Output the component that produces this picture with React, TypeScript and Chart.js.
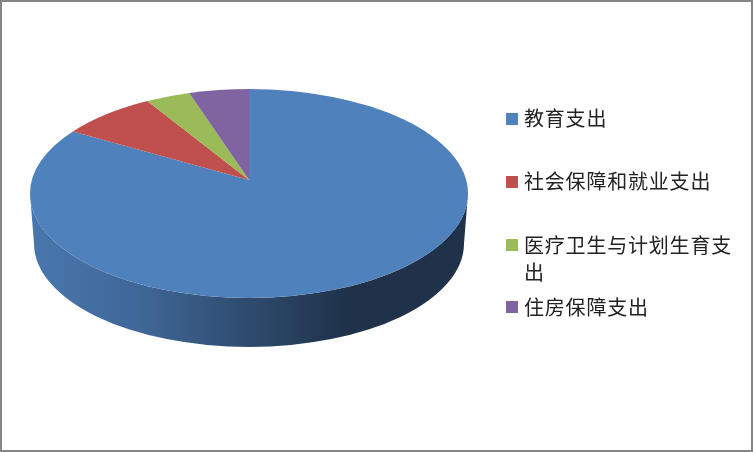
import React, { useEffect, useRef } from "react";
import { Chart, registerables } from "chart.js";

Chart.register(...registerables);

const categories = ["教育支出", "社会保障和就业支出", "医疗卫生与计划生育支出", "住房保障支出"];
const shares = [83.4, 7.9, 3.7, 5.0];
const sliceColors = ["#4F81BD", "#C0504D", "#9BBB59", "#8064A2"];
const legendRows = [118, 181, 245, 307];

const TOP_CY = 193.5;
const TOP_RY = 104.5;
const APEX_Y = 180;
const BOT_CY = 243.5;
const BOT_RY = 103.5;
const BOT_RX = 215;
const FONT = '20px "Noto Sans CJK SC"';

const shade = (hex: string, f: number) => {
  const n = parseInt(hex.slice(1), 16);
  const c = (s: number) => Math.round(((n >> s) & 255) * f);
  return `rgb(${c(16)},${c(8)},${c(0)})`;
};

const a = (APEX_Y - TOP_CY) / TOP_RY;
// perspective: the chart's angle on the pie disc -> parameter angle on the drawn rim ellipse
const rimAngle = (t: number) => {
  const x = Math.cos(t);
  const y = Math.sin(t);
  const d = 1 + a * y;
  return Math.atan2((y + a) / d, (x * Math.sqrt(1 - a * a)) / d);
};

const pie3d = {
  id: "pie3d",
  beforeDraw(chart: any) {
    const { ctx, width, height } = chart;
    ctx.save();
    ctx.fillStyle = "#ffffff";
    ctx.fillRect(0, 0, width, height);
    ctx.restore();
  },
  beforeDatasetDraw(chart: any) {
    const { ctx } = chart;
    const arcs = chart.getDatasetMeta(0).data;
    const colors = chart.data.datasets[0].backgroundColor;
    ctx.save();
    arcs.forEach((el: any, i: number) => {
      const cx = el.x;
      const rx = el.outerRadius;
      const s = rimAngle(el.startAngle);
      let e = rimAngle(el.endAngle);
      if (e < s) e += Math.PI * 2;
      const from = Math.max(s, 0);
      const to = Math.min(e, Math.PI);
      if (to <= from) return;
      const g = ctx.createLinearGradient(cx - rx, 0, cx + rx, 0);
      g.addColorStop(0, shade(colors[i], 0.92));
      g.addColorStop(0.25, shade(colors[i], 0.8));
      g.addColorStop(0.5, shade(colors[i], 0.58));
      g.addColorStop(0.72, shade(colors[i], 0.39));
      g.addColorStop(1, shade(colors[i], 0.39));
      ctx.beginPath();
      ctx.ellipse(cx, TOP_CY, rx, TOP_RY, 0, from, to, false);
      ctx.ellipse(cx, BOT_CY, BOT_RX, BOT_RY, 0, to, from, true);
      ctx.closePath();
      ctx.fillStyle = g;
      ctx.fill();
    });
    arcs.forEach((el: any, i: number) => {
      ctx.beginPath();
      ctx.moveTo(el.x, APEX_Y);
      ctx.ellipse(el.x, TOP_CY, el.outerRadius, TOP_RY, 0, rimAngle(el.startAngle), rimAngle(el.endAngle), false);
      ctx.closePath();
      ctx.fillStyle = colors[i];
      ctx.fill();
    });
    ctx.restore();
    return false;
  },
  afterDraw(chart: any) {
    const { ctx, width, height } = chart;
    const colors = chart.data.datasets[0].backgroundColor;
    ctx.save();
    ctx.font = FONT;
    (ctx as any).letterSpacing = "0.8px";
    ctx.textBaseline = "middle";
    ctx.textAlign = "left";
    chart.data.labels.forEach((label: string, i: number) => {
      const y = legendRows[i];
      ctx.fillStyle = colors[i];
      ctx.fillRect(506, y - 6 + (i === 0 || i === 1 ? 1 : 0), 12, 12);
      ctx.fillStyle = "#222222";
      const lines: string[] = [];
      let cur = "";
      for (const ch of label) {
        if (ctx.measureText(cur + ch).width > 214) {
          lines.push(cur);
          cur = ch;
        } else cur += ch;
      }
      lines.push(cur);
      lines.forEach((l, k) => ctx.fillText(l, 524, y + k * 27));
    });
    ctx.fillStyle = "#868686";
    ctx.fillRect(0, 0, width, 2);
    ctx.fillRect(0, height - 2, width, 2);
    ctx.fillRect(0, 0, 2, height);
    ctx.fillRect(width - 2, 0, 2, height);
    ctx.restore();
  },
};

export default function App() {
  const ref = useRef<HTMLCanvasElement>(null);
  useEffect(() => {
    const chart = new Chart(ref.current as HTMLCanvasElement, {
      type: "pie",
      data: {
        labels: categories,
        datasets: [{ data: shares, backgroundColor: sliceColors, borderWidth: 0 }],
      },
      options: {
        animation: false,
        responsive: false,
        devicePixelRatio: 1,
        layout: { padding: { left: 30, right: 285, top: 7, bottom: 7 } },
        plugins: { legend: { display: false }, tooltip: { enabled: false } },
      },
      plugins: [pie3d],
    } as any);
    return () => chart.destroy();
  }, []);
  return (
    <div style={{ position: "absolute", left: 0, top: 0, width: 753, height: 452 }}>
      <canvas ref={ref} width={753} height={452} style={{ display: "block" }} />
    </div>
  );
}
